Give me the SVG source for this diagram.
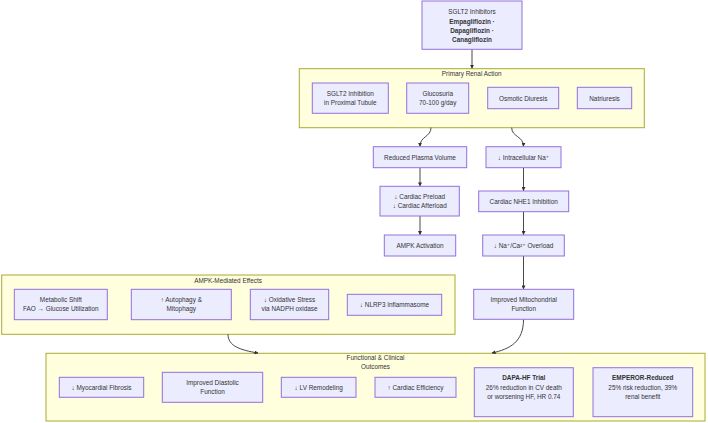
<svg xmlns="http://www.w3.org/2000/svg" width="708" height="423" viewBox="0 0 708 423">
<defs>
<style>
.bg{fill:#ffffff}
.cl rect{fill:#ffffde;stroke:#aaaa33;stroke-width:1}
.nd rect{fill:#ececff;stroke:#9370db;stroke-width:1}
text{font-family:"Liberation Sans","DejaVu Sans",sans-serif;font-size:6.4px;fill:#333333;text-anchor:middle;dominant-baseline:central}
.b{font-weight:bold}
.ed path{fill:none;stroke:#333333;stroke-width:0.9;marker-end:url(#ah)}
</style>
<marker id="ah" viewBox="0 0 10 10" refX="9" refY="5" markerWidth="4" markerHeight="4" markerUnits="userSpaceOnUse" orient="auto">
<path d="M0,0 L10,5 L0,10 z" fill="#333333"/>
</marker>
</defs>
<rect class="bg" x="0" y="0" width="708" height="423"/>

<g id="cluster-primary" class="cl">
<rect x="299.3" y="68.7" width="345" height="59"/>
<text x="471.7" y="73.5">Primary Renal Action</text>
</g>
<g id="cluster-ampk" class="cl">
<rect x="1.7" y="275" width="453.3" height="59.3"/>
<text x="228" y="280.3">AMPK-Mediated Effects</text>
</g>
<g id="cluster-outcomes" class="cl">
<rect x="46" y="353.3" width="659" height="67.7"/>
<text x="375.5" y="357.7">Functional &amp; Clinical</text>
<text x="375.5" y="366.7">Outcomes</text>
</g>

<g id="edges" class="ed">
<path d="M472,49.3 L472,68.3"/>
<path d="M431,127.7 C431,137 420,136 420,146.4"/>
<path d="M511.7,127.7 C511.7,137 523.5,136 523.5,146.4"/>
<path d="M420,167.7 L420,186"/>
<path d="M420,216 L420,234.7"/>
<path d="M523.5,167.7 L523.5,190.7"/>
<path d="M523.5,211.7 L523.5,234.7"/>
<path d="M523.5,256 L523.5,289"/>
<path d="M523.5,319.3 C523.5,342 510,349 492,353"/>
<path d="M228,334.3 C228,346 240,350 258,353"/>
</g>

<g id="n-sglt2" class="nd">
<rect x="422" y="1" width="100" height="48.3"/>
<text x="472" y="11.7">SGLT2 Inhibitors</text>
<text x="472" y="21" class="b">Empagliflozin ·</text>
<text x="472" y="30" class="b">Dapagliflozin ·</text>
<text x="472" y="39" class="b">Canagliflozin</text>
</g>
<g id="n-inhib" class="nd">
<rect x="312.3" y="83" width="76" height="30.3"/>
<text x="350.3" y="93.5">SGLT2 Inhibition</text>
<text x="350.3" y="102.5">in Proximal Tubule</text>
</g>
<g id="n-gluc" class="nd">
<rect x="406.7" y="83" width="62" height="30.3"/>
<text x="437.7" y="93.5">Glucosuria</text>
<text x="437.7" y="102.5">70-100 g/day</text>
</g>
<g id="n-osm" class="nd">
<rect x="487.7" y="87.3" width="71" height="21.4"/>
<text x="523.2" y="98">Osmotic Diuresis</text>
</g>
<g id="n-natri" class="nd">
<rect x="577.3" y="87.3" width="54.4" height="21.4"/>
<text x="604.5" y="98">Natriuresis</text>
</g>
<g id="n-rpv" class="nd">
<rect x="373.3" y="146.7" width="93.4" height="21"/>
<text x="420" y="157.2">Reduced Plasma Volume</text>
</g>
<g id="n-icna" class="nd">
<rect x="486" y="146.7" width="75" height="21"/>
<text x="523.5" y="157.2">↓ Intracellular Na⁺</text>
</g>
<g id="n-preload" class="nd">
<rect x="380" y="186.3" width="79.3" height="29.7"/>
<text x="419.7" y="196.7">↓ Cardiac Preload</text>
<text x="419.7" y="205.7">↓ Cardiac Afterload</text>
</g>
<g id="n-nhe1" class="nd">
<rect x="478.7" y="191" width="90" height="20.7"/>
<text x="523.7" y="201.3">Cardiac NHE1 Inhibition</text>
</g>
<g id="n-ampk" class="nd">
<rect x="384.3" y="235" width="71.4" height="21"/>
<text x="420" y="245.5">AMPK Activation</text>
</g>
<g id="n-naca" class="nd">
<rect x="482.7" y="235" width="81.6" height="21"/>
<text x="523.5" y="245.5">↓ Na⁺/Ca²⁺ Overload</text>
</g>
<g id="n-mito" class="nd">
<rect x="473.7" y="289.3" width="100" height="30"/>
<text x="523.7" y="299.8">Improved Mitochondrial</text>
<text x="523.7" y="308.8">Function</text>
</g>
<g id="n-meta" class="nd">
<rect x="14.3" y="289.3" width="93" height="30.4"/>
<text x="60.8" y="299.8">Metabolic Shift</text>
<text x="60.8" y="308.8">FAO → Glucose Utilization</text>
</g>
<g id="n-auto" class="nd">
<rect x="131.3" y="289.3" width="100" height="30.4"/>
<text x="181.3" y="299.8">↑ Autophagy &amp;</text>
<text x="181.3" y="308.8">Mitophagy</text>
</g>
<g id="n-ox" class="nd">
<rect x="250.3" y="289.3" width="78.4" height="30.4"/>
<text x="289.5" y="299.8">↓ Oxidative Stress</text>
<text x="289.5" y="308.8">via NADPH oxidase</text>
</g>
<g id="n-nlrp3" class="nd">
<rect x="347.3" y="294.3" width="94.4" height="21"/>
<text x="394.5" y="304.8">↓ NLRP3 Inflammasome</text>
</g>
<g id="n-fib" class="nd">
<rect x="59.3" y="377.3" width="84.4" height="20"/>
<text x="101.5" y="387.3">↓ Myocardial Fibrosis</text>
</g>
<g id="n-diast" class="nd">
<rect x="162.3" y="372.3" width="100.4" height="30"/>
<text x="212.5" y="382.8">Improved Diastolic</text>
<text x="212.5" y="391.8">Function</text>
</g>
<g id="n-lv" class="nd">
<rect x="281.3" y="377.3" width="74.7" height="20"/>
<text x="318.7" y="387.3">↓ LV Remodeling</text>
</g>
<g id="n-eff" class="nd">
<rect x="375" y="377.3" width="81" height="20"/>
<text x="415.5" y="387.3">↑ Cardiac Efficiency</text>
</g>
<g id="n-dapa" class="nd">
<rect x="474.3" y="367.7" width="99" height="49"/>
<text x="523.8" y="377.3" class="b">DAPA-HF Trial</text>
<text x="523.8" y="387">26% reduction in CV death</text>
<text x="523.8" y="396.7">or worsening HF, HR 0.74</text>
</g>
<g id="n-emperor" class="nd">
<rect x="593" y="367.7" width="99.7" height="49"/>
<text x="642.8" y="377.3" class="b">EMPEROR-Reduced</text>
<text x="642.8" y="387">25% risk reduction, 39%</text>
<text x="642.8" y="396.7">renal benefit</text>
</g>
</svg>
